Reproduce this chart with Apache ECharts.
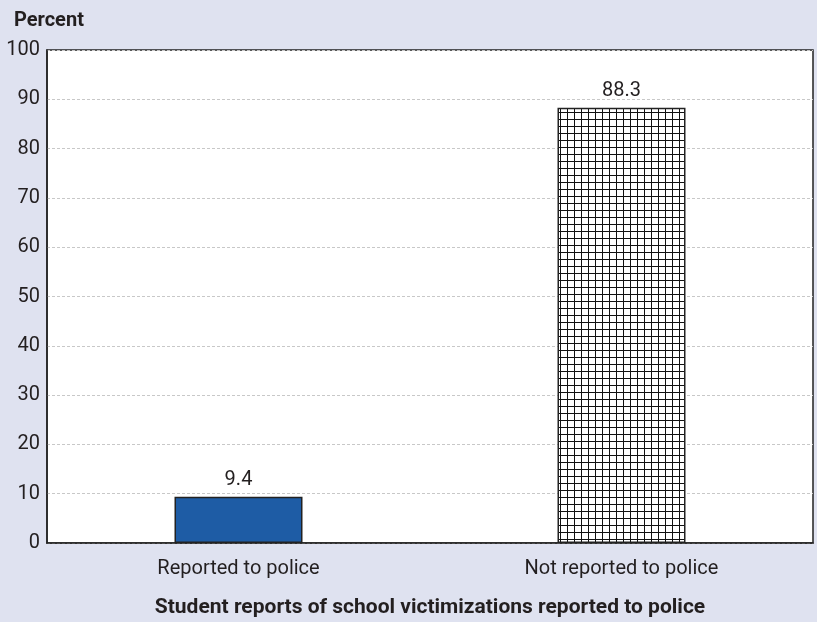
<!DOCTYPE html>
<html>
<head>
<meta charset="utf-8">
<script src="https://cdn.jsdelivr.net/npm/echarts@6/dist/echarts.min.js"></script>
<style>
html,body{margin:0;padding:0;background:#dfe2f0;}
#chart{width:817px;height:622px;}
</style>
</head>
<body>
<div id="chart"></div>
<script>
const categories = ["Reported to police", "Not reported to police"];
const values = [9.4, 88.3];
const yTicks = [0, 10, 20, 30, 40, 50, 60, 70, 80, 90, 100];

const FONT = 'Roboto, "Liberation Sans Narrow", sans-serif';

// crosshatch pattern
const pat = document.createElement('canvas');
pat.width = 7; pat.height = 7;
const pc = pat.getContext('2d');
pc.fillStyle = '#ffffff';
pc.fillRect(0, 0, 7, 7);
pc.fillStyle = '#111111';
pc.fillRect(0, 0, 7, 1);
pc.fillRect(0, 0, 1, 7);

const chart = echarts.init(document.getElementById('chart'), null, {renderer: 'canvas'});
chart.setOption({
  backgroundColor: '#dfe2f0',
  animation: false,
  grid: {left: 47, top: 50, right: 4, bottom: 79, outerBoundsMode: 'none', containLabel: false,
    show: true, backgroundColor: '#ffffff', borderColor: '#222222', borderWidth: 1.5},
  title: {
    text: 'Percent', left: 9, top: 6,
    textStyle: {fontFamily: FONT, fontSize: 20, fontWeight: 'bold', color: '#231f20'}
  },
  xAxis: {
    type: 'category',
    data: categories,
    name: 'Student reports of school victimizations reported to police',
    nameLocation: 'middle',
    nameGap: 54,
    nameTextStyle: {fontFamily: FONT, fontSize: 21, fontWeight: 'bold', color: '#231f20'},
    axisLine: {show: true, lineStyle: {color: '#222222', width: 1.5}},
    axisTick: {show: false},
    axisLabel: {fontFamily: FONT, fontSize: 20, color: '#231f20', margin: 16}
  },
  yAxis: {
    type: 'value',
    min: yTicks[0], max: yTicks[yTicks.length - 1], interval: 10,
    axisLine: {show: true, lineStyle: {color: '#222222', width: 1.5}},
    axisTick: {show: false},
    axisLabel: {fontFamily: FONT, fontSize: 20, color: '#231f20', margin: 7,
      formatter: v => yTicks.includes(v) ? String(v) : ''},
    splitLine: {show: true, lineStyle: {color: '#c8c8c8', type: [3, 2], width: 1}}
  },
  series: [{
    type: 'bar',
    data: values.map((v, i) => ({
      value: v,
      itemStyle: i === 0
        ? {color: '#1e5ca5', borderColor: '#222222', borderWidth: 1.5}
        : {color: {image: pat, repeat: 'repeat'}, borderColor: '#222222', borderWidth: 1.5}
    })),
    barWidth: 128,
    label: {show: true, position: 'top', distance: 7, fontFamily: FONT, fontSize: 20, color: '#231f20',
      formatter: p => p.value.toFixed(1)}
  }]
});
</script>
</body>
</html>
